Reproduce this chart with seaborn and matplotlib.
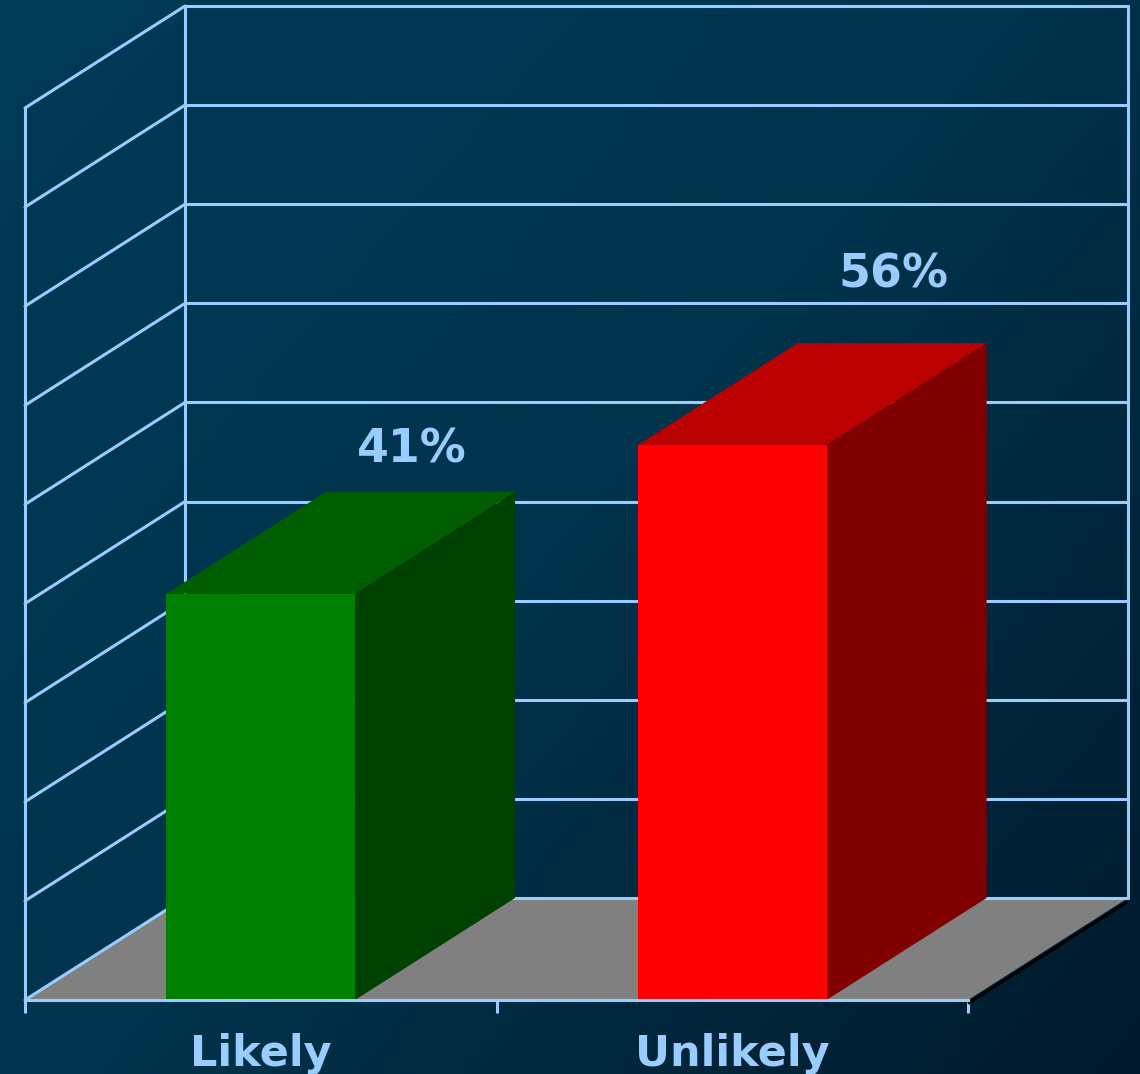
import numpy as np
import matplotlib
matplotlib.use('Agg')
import matplotlib.pyplot as plt
from matplotlib.patches import Polygon
from matplotlib.colors import LinearSegmentedColormap
import seaborn as sns

# chart data
categories = ['Likely', 'Unlikely']
values = [41, 56]
value_labels = ['41%', '56%']

# colours: front, top, side
front_colors = ['#008000', '#ff0000']
top_colors = ['#005e00', '#bb0000']
side_colors = ['#004000', '#800000']

grid_color = '#99ccff'
text_color = '#99ccff'
floor_color = '#808080'

sns.set_theme(style='white')
plt.rcParams['font.family'] = ['DejaVu Sans']

fig = plt.figure(figsize=(11.4, 10.74), dpi=100)

# background gradient
bg = fig.add_axes([0, 0, 1, 1])
xx, yy = np.meshgrid(np.linspace(0, 1, 300), np.linspace(0, 1, 300))
grad = (xx * 0.55 + yy * 0.45)
cmap = LinearSegmentedColormap.from_list('bg', ['#003a57', '#00334c', '#001a2b'])
bg.imshow(grad, cmap=cmap, aspect='auto', extent=[0, 1, 1, 0], vmin=0, vmax=1)
bg.set_axis_off()

# front plane of the chart
W, H = 1140, 1074
ax = fig.add_axes([25 / W, (H - 1000) / H, 943 / W, 892 / H])
ax.patch.set_alpha(0)
ymax = 90
ax.set_xlim(-0.5, 1.5)
ax.set_ylim(0, ymax)

# depth offset (in data units)
dx = 160 / (943 / 2)
dy = 102 / (892 / ymax)
lw = 2.2

# floor
x0, x1 = -0.5, 1.5
ax.add_patch(Polygon([(x0, 0), (x1, 0), (x1 + dx, dy), (x0 + dx, dy)],
                     closed=True, facecolor=floor_color, edgecolor='none',
                     zorder=1, clip_on=False))
ax.plot([x1, x1 + dx], [-0.35, dy - 0.35], color='black', lw=lw, zorder=1.5,
        clip_on=False, solid_capstyle='butt')

# walls / gridlines
ticks = np.arange(0, ymax + 1, 10)
for v in ticks:
    ax.plot([x0, x0 + dx], [v, v + dy], color=grid_color, lw=lw, zorder=2, clip_on=False)
    ax.plot([x0 + dx, x1 + dx], [v + dy, v + dy], color=grid_color, lw=lw, zorder=2, clip_on=False)
ax.plot([x0 + dx, x0 + dx], [dy, ymax + dy], color=grid_color, lw=lw, zorder=2, clip_on=False)
ax.plot([x1 + dx, x1 + dx], [dy, ymax + dy], color=grid_color, lw=lw, zorder=2, clip_on=False)

# bars (front faces)
sns.barplot(x=categories, y=values, hue=categories, palette=front_colors,
            width=0.4, saturation=1, legend=False, ax=ax, zorder=4)

bars = [r for c in ax.containers for r in c]
for i, p in enumerate(bars):
    bx, bw, bh = p.get_x(), p.get_width(), p.get_height()
    p.set_edgecolor('none')
    p.set_clip_on(False)
    side = Polygon([(bx + bw, 0), (bx + bw + dx, dy), (bx + bw + dx, bh + dy), (bx + bw, bh)],
                   closed=True, facecolor=side_colors[i], edgecolor='none', zorder=3, clip_on=False)
    top = Polygon([(bx, bh), (bx + dx, bh + dy), (bx + bw + dx, bh + dy), (bx + bw, bh)],
                  closed=True, facecolor=top_colors[i], edgecolor='none', zorder=3, clip_on=False)
    ax.add_patch(side)
    ax.add_patch(top)
    lx = bx + bw / 2 + dx * (0.775 + 0.0042 * bh)
    ax.text(lx, dy + 1.18 * bh - 3.2, value_labels[i],
            ha='center', va='center', fontsize=33, fontweight='bold',
            color=text_color, zorder=5, clip_on=False)

# axes styling
for s in ['top', 'right']:
    ax.spines[s].set_visible(False)
for s in ['left', 'bottom']:
    ax.spines[s].set_color(grid_color)
    ax.spines[s].set_linewidth(lw)
    ax.spines[s].set_zorder(6)
ax.set_yticks([])
ax.set_xticks([0, 1])
ax.set_xticklabels(categories)
ax.set_xticks([-0.5, 0.5, 1.5], minor=True)
ax.tick_params(axis='x', which='major', length=0, pad=24, labelsize=31,
               labelcolor=text_color)
ax.tick_params(axis='x', which='minor', length=9.5, width=lw, color=grid_color,
               direction='out', bottom=True)
for lab in ax.get_xticklabels():
    lab.set_fontweight('bold')
ax.set_xlabel('')
ax.set_ylabel('')
ax.grid(False)

fig.savefig('out.png', dpi=100)
